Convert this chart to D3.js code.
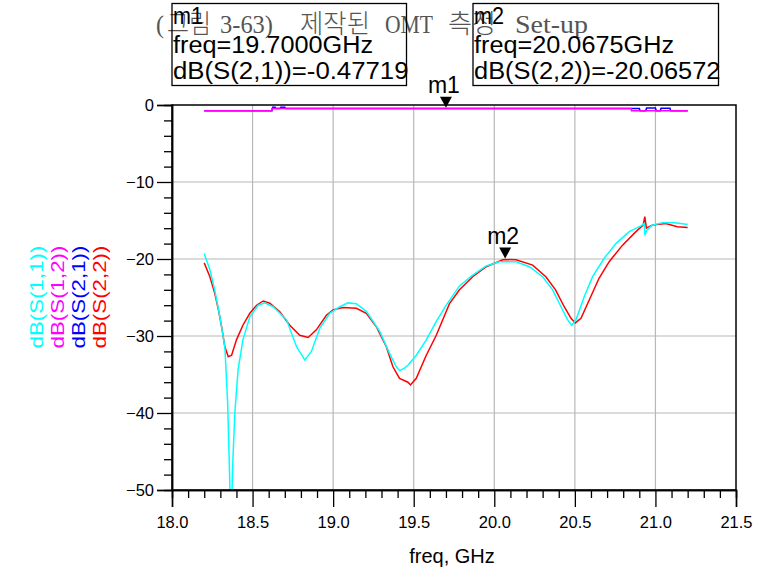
<!DOCTYPE html>
<html>
<head>
<meta charset="utf-8">
<script src="https://cdn.jsdelivr.net/npm/d3@7"></script>
<style>
  body { margin: 0; background: #fff; }
  text { font-family: "Liberation Sans", Arial, sans-serif; }
</style>
</head>
<body>
<svg id="chart" width="774" height="585"></svg>
<script>
// S11 (cyan)
const s11Freq = [18.200, 18.235, 18.265, 18.297, 18.328, 18.345, 18.355, 18.362, 18.370, 18.378, 18.390, 18.410, 18.440, 18.483, 18.535, 18.576, 18.628, 18.711, 18.773, 18.824, 18.865, 18.917, 18.979, 19.041, 19.092, 19.144, 19.206, 19.289, 19.350, 19.392, 19.412, 19.440, 19.464, 19.516, 19.578, 19.640, 19.702, 19.784, 19.866, 19.950, 20.032, 20.135, 20.218, 20.300, 20.362, 20.414, 20.455, 20.480, 20.507, 20.558, 20.610, 20.682, 20.755, 20.837, 20.910, 20.930, 20.935, 20.945, 20.980, 21.044, 21.120, 21.190, 21.200];
const s11Db = [-19.3, -21.4, -24.0, -27.5, -31.4, -38.5, -46, -52, -52, -46, -40, -34.4, -30.5, -27.5, -26.0, -25.7, -26.2, -27.9, -31.4, -33.1, -32.0, -29.0, -27.05, -26.2, -25.7, -25.8, -26.8, -29.4, -32.25, -34.0, -34.5, -34.2, -33.8, -32.5, -30.5, -28.1, -26.0, -23.5, -22.1, -20.9, -20.35, -20.35, -21.0, -22.3, -24.0, -26.2, -27.9, -28.6, -27.9, -24.9, -22.3, -19.9, -18.0, -16.45, -15.7, -15.4, -16.9, -16.3, -15.6, -15.3, -15.3, -15.5, -15.5];

// S22 (red)
const s22Freq = [18.200, 18.235, 18.266, 18.290, 18.308, 18.328, 18.349, 18.370, 18.400, 18.440, 18.483, 18.525, 18.566, 18.607, 18.669, 18.731, 18.793, 18.845, 18.896, 18.958, 18.999, 19.061, 19.144, 19.206, 19.268, 19.330, 19.371, 19.412, 19.464, 19.480, 19.516, 19.578, 19.640, 19.722, 19.784, 19.866, 19.950, 20.053, 20.0675, 20.135, 20.238, 20.320, 20.380, 20.434, 20.476, 20.503, 20.538, 20.590, 20.650, 20.713, 20.796, 20.879, 20.924, 20.934, 20.944, 20.980, 21.064, 21.136, 21.200];
const s22Db = [-20.5, -22.3, -24.5, -26.8, -28.8, -31.4, -32.7, -32.5, -30.5, -28.6, -27.05, -26.0, -25.45, -25.75, -26.85, -28.6, -29.9, -30.2, -29.2, -27.3, -26.6, -26.3, -26.4, -27.05, -28.8, -31.4, -34.0, -35.5, -36.0, -36.35, -35.5, -32.5, -29.9, -25.8, -24.0, -22.3, -21.0, -20.1, -20.07, -20.1, -20.8, -22.3, -24.0, -26.2, -27.7, -28.3, -27.7, -25.3, -22.5, -20.35, -18.2, -16.45, -15.6, -14.5, -16.0, -15.6, -15.4, -15.8, -15.9];

// S12 (magenta) and S21 (blue), near 0 dB
const s12Freq = [18.20, 18.62, 18.621, 20.85, 20.851, 21.20];
const s12Db = [-0.75, -0.75, -0.46, -0.46, -0.75, -0.75];
const s21Freq = [18.20, 18.62, 18.625, 18.64, 18.645, 18.67, 18.675, 18.70, 18.705, 20.85, 20.855, 20.90, 20.905, 20.94, 20.945, 21.00, 21.005, 21.03, 21.035, 21.09, 21.095, 21.20];
const s21Db = [-0.75, -0.75, -0.30, -0.30, -0.46, -0.46, -0.30, -0.30, -0.46, -0.46, -0.45, -0.45, -0.75, -0.75, -0.40, -0.40, -0.75, -0.75, -0.42, -0.42, -0.75, -0.75];

const xTicks = [18.0, 18.5, 19.0, 19.5, 20.0, 20.5, 21.0, 21.5];
const yTicks = [0, -10, -20, -30, -40, -50];

const titleParts = ["(", "그림", "3-63)", "제작된", "OMT", "측정", "Set-up"];
const markerNames = ["m1", "m2"];
const markerFreq = [19.7000, 20.0675];
const markerDb = [-0.47719, -20.06572];
const markerTrace = ["dB(S(2,1))", "dB(S(2,2))"];

const seriesNames = ["dB(S(1,1))", "dB(S(1,2))", "dB(S(2,1))", "dB(S(2,2))"];
const seriesColors = ["#00ffff", "#ff00ff", "#0000ff", "#ff0000"];

const svg = d3.select('#chart');
svg.append('rect').attr('width', 774).attr('height', 585).attr('fill', '#fff');

const x = d3.scaleLinear().domain([18, 21.5]).range([172, 736]);
const y = d3.scaleLinear().domain([-50, 0]).range([490, 105]);

// title (drawn first, marker boxes sit over it)
const titlePos = [156, 167, 220, 300, 385, 448, 515];
const titleLen = [8, 44, 53, 70, 48, 48, 73];
const title = svg.append('text')
    .attr('y', 33)
    .style('font-family', '"Liberation Serif", "DejaVu Serif", "Noto Sans CJK KR", serif')
    .style('font-size', '26px')
    .attr('fill', '#555');
titleParts.forEach((p, i) => {
    title.append('tspan')
        .attr('x', titlePos[i])
        .attr('textLength', titleLen[i]).attr('lengthAdjust', 'spacingAndGlyphs')
        .style('font-weight', /[가-힣]/.test(p) ? 300 : null)
        .text(p);
});

// grid
const grid = svg.append('g');
xTicks.slice(1, -1).forEach(v => {
    grid.append('line').attr('x1', x(v)).attr('x2', x(v)).attr('y1', y(0)).attr('y2', y(-50))
        .attr('stroke', '#b8b8b8').attr('stroke-width', 1.2);
});
yTicks.slice(1, -1).forEach(v => {
    grid.append('line').attr('x1', x(18)).attr('x2', x(21.5)).attr('y1', y(v)).attr('y2', y(v))
        .attr('stroke', '#b8b8b8').attr('stroke-width', 1.2);
});

// traces
svg.append('clipPath').attr('id', 'plotclip').append('rect')
    .attr('x', x(18)).attr('y', y(0) - 2).attr('width', x(21.5) - x(18)).attr('height', y(-50) - y(0) + 2);
const traces = svg.append('g').attr('clip-path', 'url(#plotclip)');
const line = d3.line().x(d => x(d[0])).y(d => y(d[1]));
const drawTrace = (fr, db, color) => {
    traces.append('path')
        .datum(d3.zip(fr, db))
        .attr('d', line)
        .attr('fill', 'none')
        .attr('stroke', color)
        .attr('stroke-width', 1.5);
};
drawTrace(s22Freq, s22Db, seriesColors[3]);
drawTrace(s21Freq, s21Db, seriesColors[2]);
drawTrace(s12Freq, s12Db, seriesColors[1]);
drawTrace(s11Freq, s11Db, seriesColors[0]);

// frame
svg.append('rect')
    .attr('x', x(18)).attr('y', y(0)).attr('width', x(21.5) - x(18)).attr('height', y(-50) - y(0))
    .attr('fill', 'none').attr('stroke', '#000').attr('stroke-width', 1.5);

// axes
const xMinor = d3.range(181, 215).map(v => v / 10).filter(v => Math.round(v * 10) % 5 !== 0);
const yMinor = d3.range(-48, 0, 2).filter(v => v % 10 !== 0);

const xAxis = svg.append('g').attr('transform', `translate(0,${y(-50)})`)
    .call(d3.axisBottom(x).tickValues(xTicks).tickSize(17).tickFormat(d3.format('.1f')));
xAxis.selectAll('text').attr('y', 38).attr('dy', 0).style('font-size', '16.5px').attr('fill', '#000');
svg.append('g').attr('transform', `translate(0,${y(-50)})`)
    .call(d3.axisBottom(x).tickValues(xMinor).tickSize(8).tickFormat(''));

const yAxis = svg.append('g').attr('transform', `translate(${x(18)},0)`)
    .call(d3.axisLeft(y).tickValues(yTicks).tickSize(15));
yAxis.selectAll('text').attr('x', -18).attr('dy', '0.36em').style('font-size', '16.5px').attr('fill', '#000');
svg.append('g').attr('transform', `translate(${x(18)},0)`)
    .call(d3.axisLeft(y).tickValues(yMinor).tickSize(8).tickFormat(''));

svg.selectAll('.domain').attr('stroke-width', 1.5);
svg.selectAll('.tick line').attr('stroke-width', 1.3);

// axis titles
svg.append('text')
    .attr('x', 452).attr('y', 563)
    .attr('text-anchor', 'middle')
    .style('font-size', '20px')
    .text('freq, GHz');

const yLabX = [43, 64, 84.5, 106];
seriesNames.forEach((name, i) => {
    svg.append('text')
        .attr('transform', `translate(${yLabX[i]},297) rotate(-90)`)
        .attr('text-anchor', 'middle')
        .attr('textLength', 103).attr('lengthAdjust', 'spacingAndGlyphs')
        .style('font-size', '19px')
        .attr('fill', seriesColors[i])
        .text(name);
});

// markers
const boxLeft = [172, 473];
const boxRight = [406.5, 718.5];
markerNames.forEach((m, i) => {
    const mx = x(markerFreq[i]);
    const my = y(markerDb[i]) - 1;
    svg.append('path')
        .attr('d', `M${mx - 6},${my - 11}L${mx + 6},${my - 11}L${mx},${my}Z`)
        .attr('fill', '#000');
    svg.append('text')
        .attr('x', mx - 2).attr('y', my - 15)
        .attr('text-anchor', 'middle')
        .style('font-size', '23px')
        .text(m);

    svg.append('rect')
        .attr('x', boxLeft[i]).attr('y', 3.5)
        .attr('width', boxRight[i] - boxLeft[i]).attr('height', 82)
        .attr('fill', 'none').attr('stroke', '#000').attr('stroke-width', 1.3);
    const lines = [m,
        'freq=' + markerFreq[i].toFixed(4) + 'GHz',
        markerTrace[i] + '=' + markerDb[i].toFixed(5)];
    const widths = [30, 200, 234];
    const base = [23.5, 53.3, 79.3];
    lines.forEach((t, j) => {
        svg.append('text')
            .attr('x', boxLeft[i] + 1).attr('y', base[j])
            .attr('textLength', j === 2 ? boxRight[i] - boxLeft[i] + 1 : widths[j])
            .attr('lengthAdjust', 'spacingAndGlyphs')
            .style('font-size', '23px')
            .text(t);
    });
});
</script>
</body>
</html>
